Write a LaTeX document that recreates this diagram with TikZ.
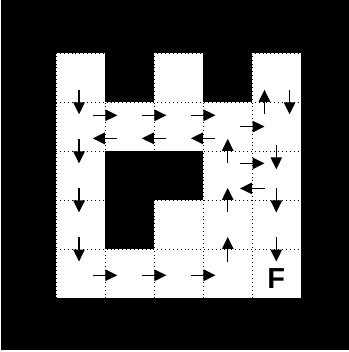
\documentclass[tikz,border=0pt]{standalone}
\usepackage{fontspec}
\setsansfont{Liberation Sans}
\usetikzlibrary{arrows.meta}
\tikzset{wall/.style={fill=black},
    free/.style={fill=white},
    gridline/.style={draw=black,line width=0.9pt,dash pattern=on 0.9pt off 3pt},
    act/.style={draw,line width=1.2pt,-{Triangle[length=12pt,width=11.5pt]}},
    goal/.style={font=\sffamily\bfseries\fontsize{29}{29}\selectfont,inner sep=0pt}}

\begin{document}
\begin{tikzpicture}[x=49.1pt,y=49.1pt]

  % Frame and outer wall
  \useasboundingbox[fill=white] (-1.1405,-1.0937) rectangle (5.9674,6.0794);
  \fill[wall] (-1.110,-1.0428) rectangle (5.9674,6.0794);

  % Free cells of the maze
  \fill[free] (0,0) rectangle (5,4);
  \foreach \c in {0,2,4}
    \fill[free] (\c,4) rectangle ++(1,1);

  % Walls inside the maze
  \foreach \c/\r in {1/2, 2/2, 1/1}
    \fill[wall] (\c,\r) rectangle ++(1,1);

  % Dotted lines between cells
  \foreach \k in {0,...,5} {
    \draw[gridline] (\k,0) -- (\k,5);
    \draw[gridline] (0,\k) -- (5,\k);
  }

  % Moves between cells
  \foreach \x/\y in {1/3.73, 2/3.73, 3/3.73, 4/3.5, 4/2.75, 1/0.47, 2/0.47, 3/0.47}
    \draw[act] (\x-0.25,\y) -- (\x+0.25,\y);
  \foreach \x/\y in {1/3.26, 2/3.26, 3/3.26, 4/2.24}
    \draw[act] (\x+0.25,\y) -- (\x-0.25,\y);
  \foreach \x/\y in {0.47/4, 0.47/3, 0.47/2, 0.47/1, 4.76/4, 4.49/2.88, 4.49/2, 4.49/1}
    \draw[act] (\x,\y+0.25) -- (\x,\y-0.25);
  \foreach \x/\y in {4.25/4, 3.5/3, 3.5/2, 3.5/1}
    \draw[act] (\x,\y-0.25) -- (\x,\y+0.25);

  % Goal cell
  \node[goal] (F) at (4.49,0.41) {F};

\end{tikzpicture}
\end{document}
